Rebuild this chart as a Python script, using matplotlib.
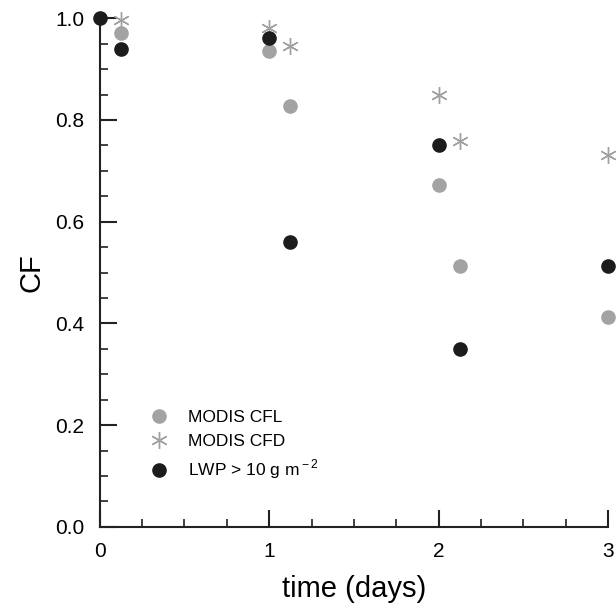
import matplotlib
matplotlib.use("Agg")
import matplotlib.pyplot as plt
from matplotlib.ticker import MultipleLocator

plt.rcParams['font.family'] = ['Liberation Sans', 'DejaVu Sans']
plt.rcParams['mathtext.fontset'] = 'custom'
plt.rcParams['mathtext.rm'] = 'Liberation Sans'

# time (days) of each sample
t_modis = [0.125, 1.0, 1.125, 2.0, 2.125, 3.0]
t_lwp = [0.0, 0.125, 1.0, 1.125, 2.0, 2.125, 3.0]

# cloud fraction
cfl = [0.972, 0.935, 0.827, 0.672, 0.513, 0.413]
cfd = [0.996, 0.980, 0.945, 0.849, 0.758, 0.731]
lwp = [1.0, 0.939, 0.961, 0.560, 0.750, 0.350, 0.513]

labels = ['MODIS CFL', 'MODIS CFD', r'LWP > 10 g m$^{\rm -2}$']

fig = plt.figure(figsize=(6.16, 6.09), dpi=100)
ax = fig.add_axes([0.162, 0.135, 0.825, 0.835])

gray = '#a3a3a3'
black = '#1c1c1c'

ax.plot(t_modis, cfl, ls='none', marker='o', ms=9.5, mfc=gray, mec=gray,
        label=labels[0], clip_on=False, zorder=3)
ax.plot(t_modis, cfd, ls='none', marker=(6, 2, 0), ms=12, mec='#a0a0a0',
        mew=1.0, label=labels[1], clip_on=False, zorder=3)
ax.plot(t_lwp, lwp, ls='none', marker='o', ms=9.5, mfc=black, mec=black,
        label=labels[2], clip_on=False, zorder=4)

ax.set_xlim(0, 3)
ax.set_ylim(0, 1.0)
ax.xaxis.set_major_locator(MultipleLocator(1))
ax.xaxis.set_minor_locator(MultipleLocator(0.25))
ax.yaxis.set_major_locator(MultipleLocator(0.2))
ax.yaxis.set_minor_locator(MultipleLocator(0.05))
ax.yaxis.set_major_formatter(plt.FormatStrFormatter('%.1f'))

for s in ['top', 'right']:
    ax.spines[s].set_visible(False)
for s in ['left', 'bottom']:
    ax.spines[s].set_linewidth(1.5)
    ax.spines[s].set_color('#222222')

ax.tick_params(which='major', direction='in', length=12, width=1.5,
               color='#222222', labelsize=15, pad=11)
ax.tick_params(which='minor', direction='in', length=6, width=1.2,
               color='#222222')

ax.set_xlabel('time (days)', fontsize=21, labelpad=10)
ax.set_ylabel('CF', fontsize=21, labelpad=7)

ax.legend(loc='upper left', bbox_to_anchor=(0.085, 0.243), frameon=False,
          fontsize=12.5, handletextpad=1.2, labelspacing=0.5,
          handlelength=1.0, borderaxespad=0)

fig.savefig('out.png', dpi=100)
